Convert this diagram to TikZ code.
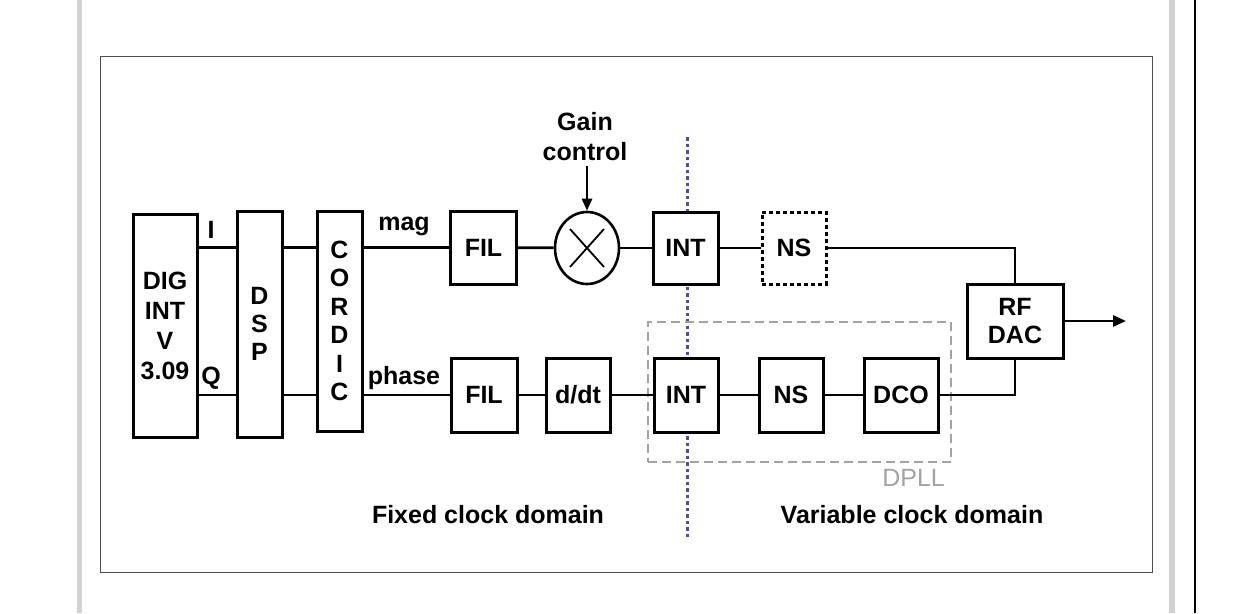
\documentclass[tikz,border=0pt]{standalone}
\usepackage{fontspec}
\setmainfont{Liberation Sans}
\usetikzlibrary{arrows.meta,shapes.geometric,calc}
\definecolor{purpdot}{HTML}{5E44A8}
\definecolor{dpllgray}{HTML}{A3A3A3}
\definecolor{bargray}{HTML}{D2D2D2}
\begin{document}
\begin{tikzpicture}[x=1pt,y=-1pt,
  blk/.style={draw=black,fill=white,line width=3pt,inner sep=0pt,font=\fontsize{25}{28}\selectfont\bfseries,align=center},
  wire/.style={draw=black,line width=2.8pt},
  lbl/.style={inner sep=0pt,font=\fontsize{25}{30}\selectfont\bfseries,align=center}]
\useasboundingbox (0,0) rectangle (1250,613);
\fill[white] (0,0) rectangle (1250,613);
% side bars
\fill[bargray] (77,0) rectangle (82,613);
\fill[bargray] (1169,0) rectangle (1175,613);
\draw[black,line width=1.5pt] (1195,0) -- (1195,613);
% frame
\draw[black!70,line width=1pt] (100,56) rectangle (1152,572);
% clock domain divider
\coordinate (divtop) at (687,137);
\coordinate (divbot) at (687,540);
\draw[purpdot,line width=3pt,dash pattern=on 3.5pt off 3pt] (divtop) -- (divbot);
% DPLL
\node[draw=dpllgray,line width=1.8pt,dash pattern=on 9pt off 5pt,minimum width=303pt,minimum height=140pt,inner sep=0pt] (dpll) at (799.5,392) {};
\node[inner sep=0pt,text=dpllgray,font=\fontsize{25}{30}\selectfont,anchor=east] (dplllbl) at (945,478) {DPLL};
% blocks
\node[blk,minimum width=64pt,minimum height=223pt,font=\fontsize{25}{30}\selectfont\bfseries] (dig) at (165,325.5) {DIG\\INT\\V\\3.09};
\node[blk,minimum width=45pt,minimum height=226pt] (dsp) at (259.5,324) {D\\S\\P};
\node[blk,minimum width=45pt,minimum height=220pt,font=\fontsize{25}{28.5}\selectfont\bfseries] (cordic) at (339.5,321) {C\\O\\R\\D\\I\\C};
\node[blk,minimum width=66pt,minimum height=73pt] (fil1) at (483.5,247.5) {FIL};
\node[draw=black,fill=white,line width=2.6pt,ellipse,minimum width=64pt,minimum height=72pt,inner sep=0pt] (mult) at (587,248) {};
\node[blk,minimum width=65pt,minimum height=72pt] (int1) at (685.5,248) {INT};
\node[blk,minimum width=64pt,minimum height=72pt,dash pattern=on 4pt off 3pt] (ns1) at (794,248) {NS};
\node[blk,minimum width=66pt,minimum height=74pt] (fil2) at (484,395) {FIL};
\node[blk,minimum width=64pt,minimum height=74pt] (ddt) at (578,395) {d/dt};
\node[blk,minimum width=64pt,minimum height=74pt] (int2) at (686,395) {INT};
\node[blk,minimum width=64pt,minimum height=74pt] (ns2) at (791,395) {NS};
\node[blk,minimum width=74pt,minimum height=74pt] (dco) at (901,395) {DCO};
\node[blk,minimum width=96pt,minimum height=74pt] (rfdac) at (1015,321) {RF\\DAC};
% multiplier cross
\draw[line width=1.8pt] ($(mult.center)+(-17,-19)$) -- ($(mult.center)+(17,19)$);
\draw[line width=1.8pt] ($(mult.center)+(-17,19)$) -- ($(mult.center)+(17,-19)$);
% wires
\draw[wire] (dig.east |- fil1) -- (dsp.west |- fil1);
\draw[wire] (dig.east |- fil2) -- (dsp.west |- fil2);
\draw[wire] (dsp.east |- fil1) -- (cordic.west |- fil1);
\draw[wire] (dsp.east |- fil2) -- (cordic.west |- fil2);
\draw[wire] (cordic.east |- fil1) -- (fil1.west);
\draw[wire] (cordic.east |- fil2) -- (fil2.west);
\draw[wire] (fil1) -- (mult);
\draw[wire] (mult) -- (int1);
\draw[wire] (int1) -- (ns1);
\draw[wire] (ns1.east) -- (rfdac.north |- ns1) -- (rfdac.north);
\draw[wire] (fil2) -- (ddt);
\draw[wire] (ddt) -- (int2);
\draw[wire] (int2) -- (ns2);
\draw[wire] (ns2) -- (dco);
\draw[wire] (dco.east) -- (rfdac.south |- dco) -- (rfdac.south);
\coordinate (out) at (1126,321);
\draw[wire,-{Triangle[length=13pt,width=11pt]}] (rfdac.east) -- (out);
% gain control
\node[lbl] (gain) at (585,137) {Gain\\control};
\draw[wire,-{Triangle[length=12pt,width=10pt]}] (587,166) -- (mult.north);
% labels
\node[lbl] (ilbl) at (211,230) {I};
\node[lbl] (qlbl) at (211,378) {Q};
\node[lbl] (maglbl) at (404,226) {mag};
\node[lbl] (phlbl) at (404,378) {phase};
\node[lbl] (fixed) at (488,515) {Fixed clock domain};
\node[lbl] (var) at (912,515) {Variable clock domain};
\end{tikzpicture}
\end{document}
